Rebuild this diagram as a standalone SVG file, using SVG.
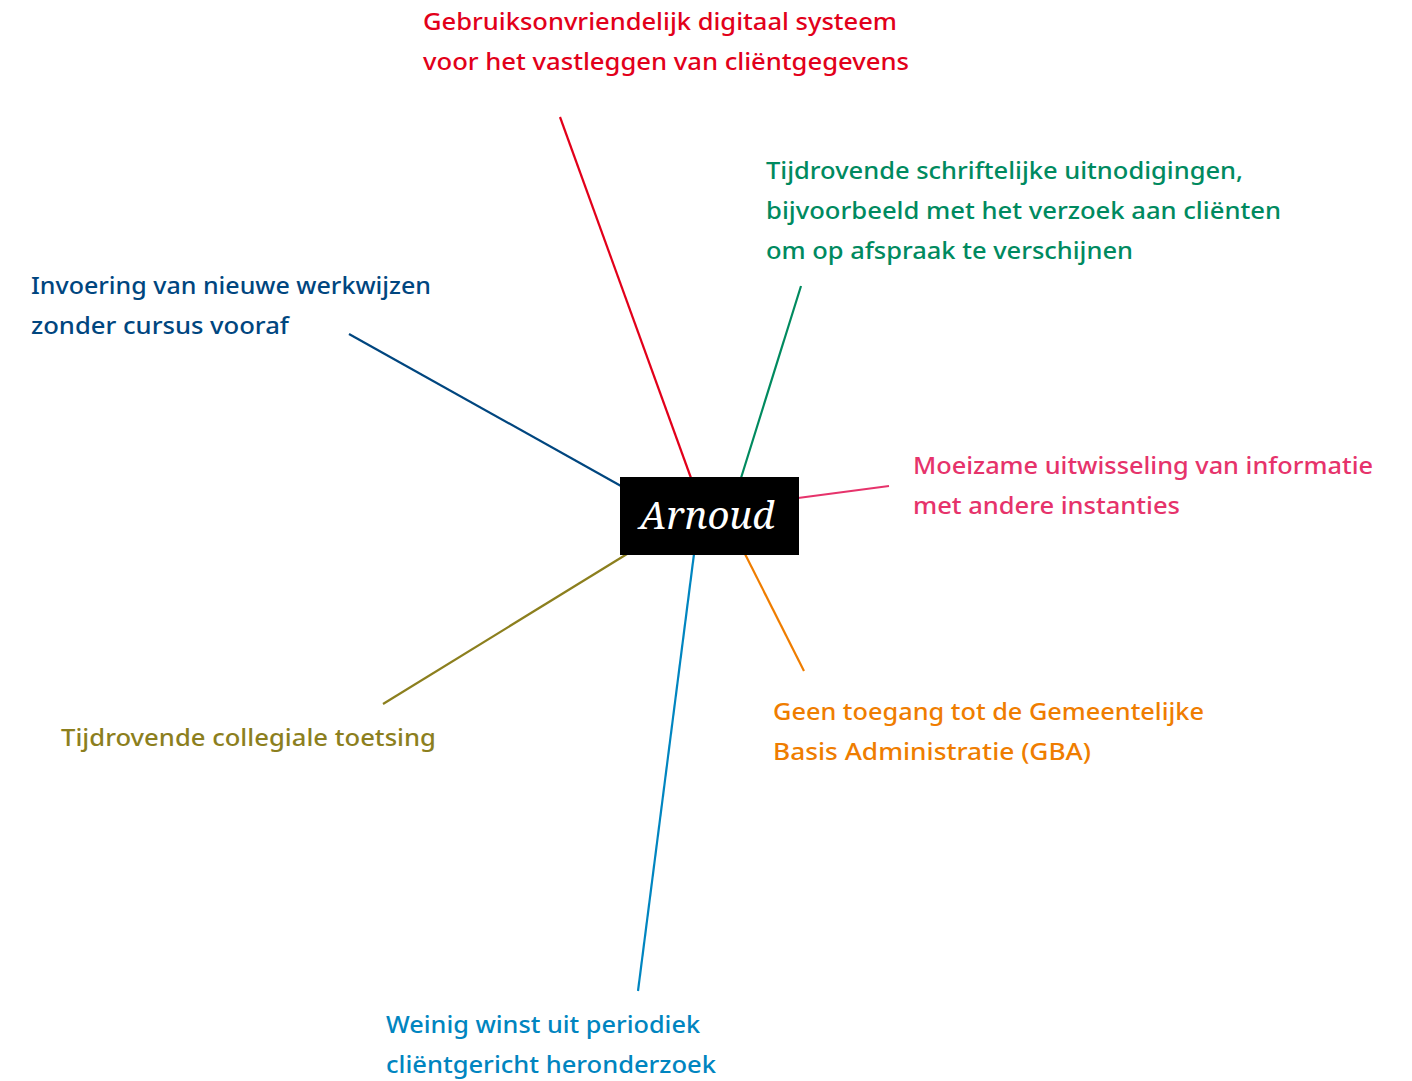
<svg xmlns="http://www.w3.org/2000/svg" width="1412" height="1081" viewBox="0 0 1412 1081">
  <style>
    .lbl { font-family: "Noto Sans", "Open Sans", "DejaVu Sans", sans-serif; font-size: 24px; font-weight: 500; }
    .spoke { stroke-width: 2.2; fill: none; stroke-linecap: butt; }
    .red { fill: #e2001a; } .s-red { stroke: #e2001a; }
    .green { fill: #008a5f; } .s-green { stroke: #008a5f; }
    .navy { fill: #00467f; } .s-navy { stroke: #00467f; }
    .pink { fill: #e6336b; } .s-pink { stroke: #e6336b; }
    .orange { fill: #ef7d00; } .s-orange { stroke: #ef7d00; }
    .olive { fill: #8c7f1e; } .s-olive { stroke: #8c7f1e; }
    .sky { fill: #0085c0; } .s-sky { stroke: #0085c0; }
  </style>
  <rect width="1412" height="1081" fill="#ffffff"/>

  <!-- spokes from the central name box -->
  <g id="connectors">
    <line class="spoke s-red" x1="560" y1="117" x2="691" y2="478"/>
    <line class="spoke s-green" x1="801" y1="286" x2="741" y2="478"/>
    <line class="spoke s-navy" x1="349" y1="334" x2="621" y2="486"/>
    <line class="spoke s-pink" x1="798" y1="498" x2="889" y2="486"/>
    <line class="spoke s-orange" x1="745" y1="554" x2="804" y2="671"/>
    <line class="spoke s-olive" x1="627" y1="554" x2="383" y2="704"/>
    <line class="spoke s-sky" x1="694" y1="554" x2="638" y2="991"/>
  </g>

  <g id="center">
    <rect x="620" y="477" width="179" height="78" fill="#000000"/>
    <text x="707" y="529" text-anchor="middle" font-family="'Noto Serif', 'DejaVu Serif', 'Liberation Serif', serif" font-style="italic" font-size="38" textLength="135" lengthAdjust="spacingAndGlyphs" fill="#ffffff">Arnoud</text>
  </g>

  <g id="n-systeem" class="lbl red">
    <text x="423" y="30" textLength="474" lengthAdjust="spacingAndGlyphs">Gebruiksonvriendelijk digitaal systeem</text>
    <text x="423" y="70" textLength="486" lengthAdjust="spacingAndGlyphs">voor het vastleggen van cliëntgegevens</text>
  </g>

  <g id="n-uitnodigingen" class="lbl green">
    <text x="766" y="179" textLength="477" lengthAdjust="spacingAndGlyphs">Tijdrovende schriftelijke uitnodigingen,</text>
    <text x="766" y="219" textLength="515" lengthAdjust="spacingAndGlyphs">bijvoorbeeld met het verzoek aan cliënten</text>
    <text x="766" y="259" textLength="367" lengthAdjust="spacingAndGlyphs">om op afspraak te verschijnen</text>
  </g>

  <g id="n-werkwijzen" class="lbl navy">
    <text x="31" y="294" textLength="400" lengthAdjust="spacingAndGlyphs">Invoering van nieuwe werkwijzen</text>
    <text x="31" y="334" textLength="258" lengthAdjust="spacingAndGlyphs">zonder cursus vooraf</text>
  </g>

  <g id="n-informatie" class="lbl pink">
    <text x="913" y="474" textLength="460" lengthAdjust="spacingAndGlyphs">Moeizame uitwisseling van informatie</text>
    <text x="913" y="514" textLength="267" lengthAdjust="spacingAndGlyphs">met andere instanties</text>
  </g>

  <g id="n-gba" class="lbl orange">
    <text x="773" y="720" textLength="431" lengthAdjust="spacingAndGlyphs">Geen toegang tot de Gemeentelijke</text>
    <text x="773" y="760" textLength="318" lengthAdjust="spacingAndGlyphs">Basis Administratie (GBA)</text>
  </g>

  <g id="n-toetsing" class="lbl olive">
    <text x="61" y="746" textLength="375" lengthAdjust="spacingAndGlyphs">Tijdrovende collegiale toetsing</text>
  </g>

  <g id="n-heronderzoek" class="lbl sky">
    <text x="386" y="1033" textLength="314" lengthAdjust="spacingAndGlyphs">Weinig winst uit periodiek</text>
    <text x="386" y="1073" textLength="330" lengthAdjust="spacingAndGlyphs">cliëntgericht heronderzoek</text>
  </g>
</svg>
